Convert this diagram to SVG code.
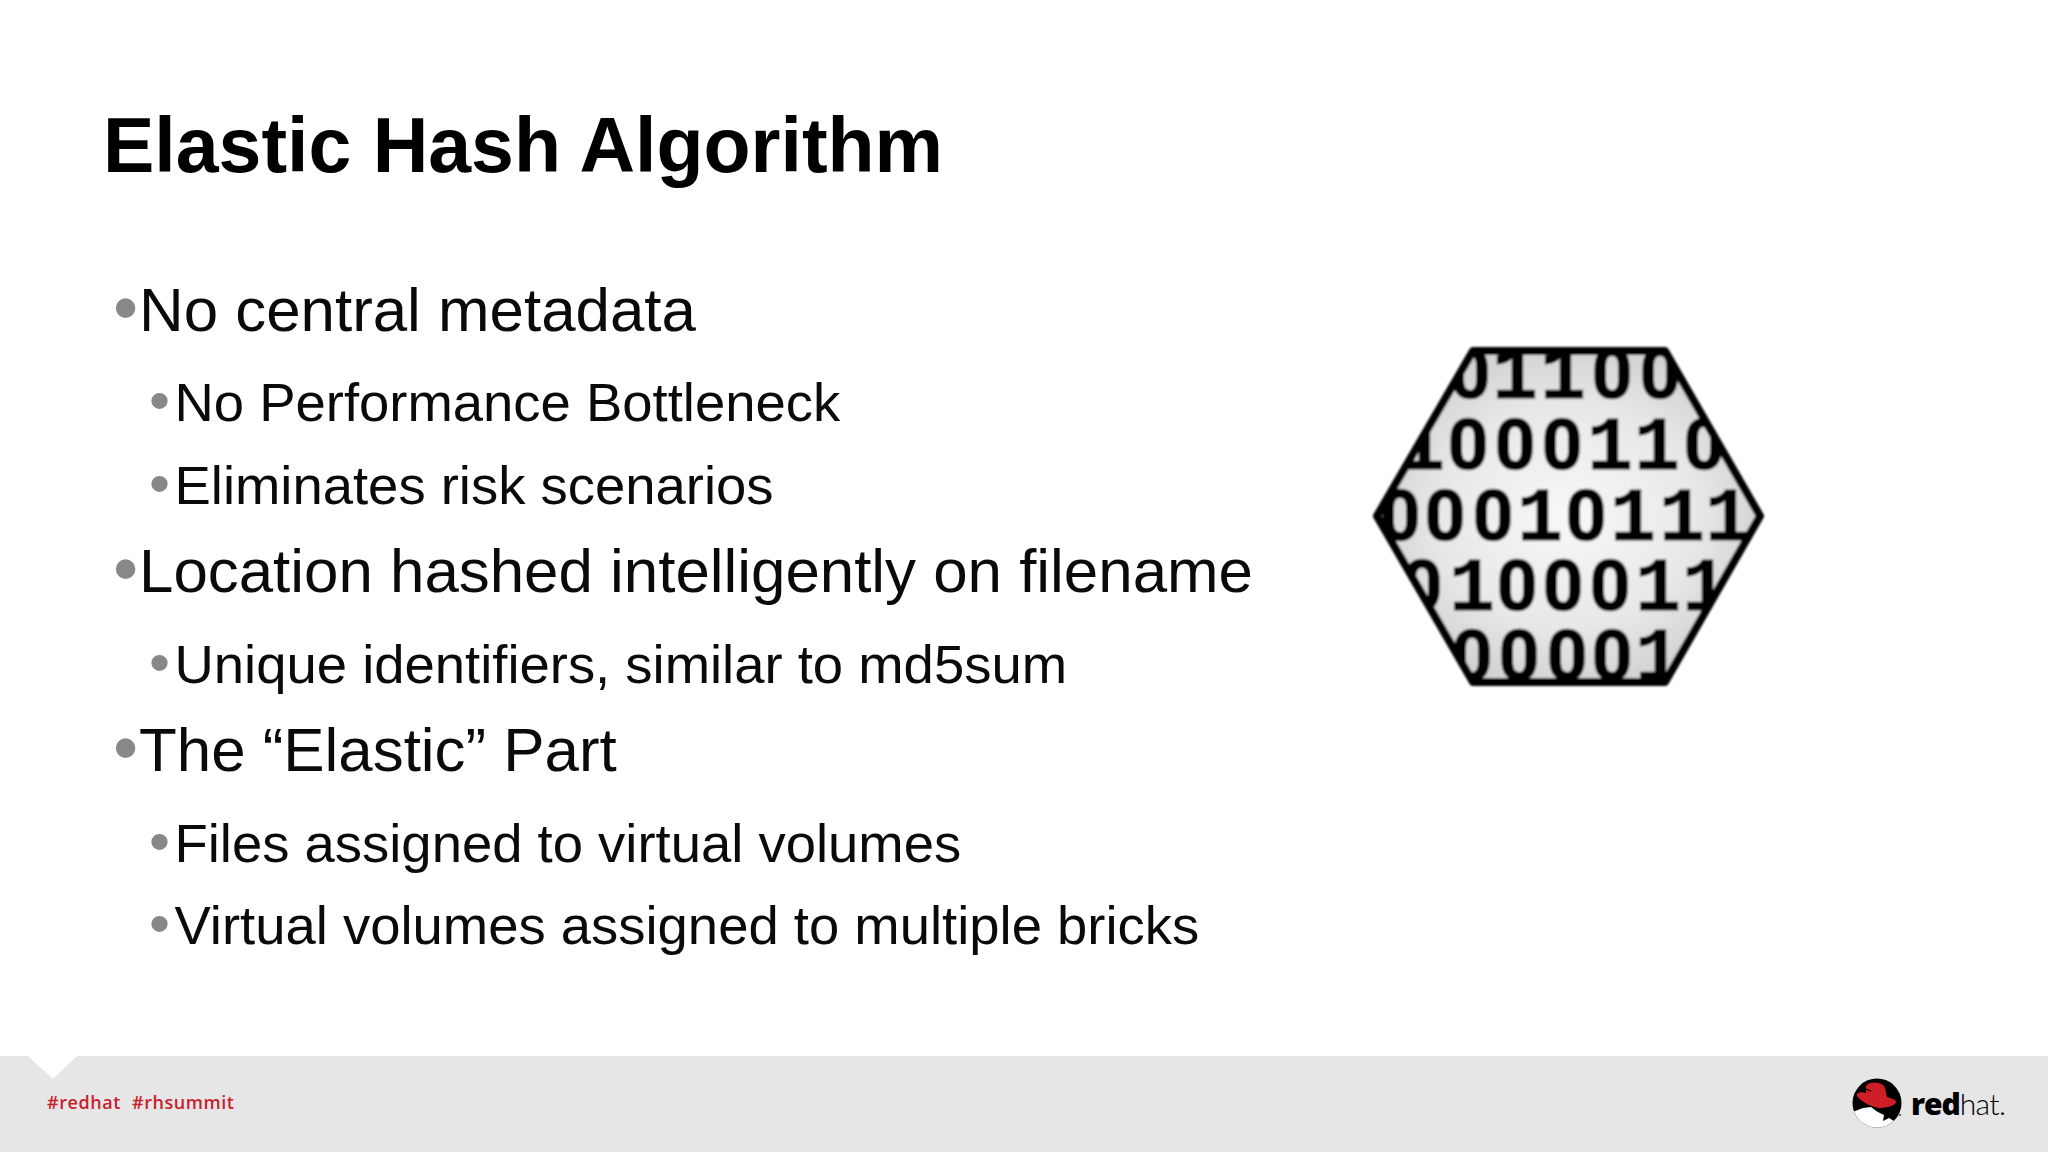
<svg xmlns="http://www.w3.org/2000/svg" width="2048" height="1152" viewBox="0 0 2048 1152">
<style>
text{font-family:"Liberation Sans",Arial,sans-serif;fill:#0a0a0a}
.t{font-size:77px;font-weight:700;fill:#000}
.a{font-size:61.85px}
.b{font-size:54.45px}
.ba{font-size:72px;fill:#888}
.bb{font-size:60px;fill:#888}
.z{font-family:Roboto,"Liberation Sans",sans-serif;font-weight:700;font-size:70px;fill:#000;stroke:#000;stroke-width:1.6px}
.o{font-family:"Liberation Mono",monospace;font-weight:700;font-size:76px;fill:#000;stroke:#000;stroke-width:1px}
.f{font-family:"Open Sans",sans-serif;font-weight:600;font-size:18px;fill:#c9202e;letter-spacing:.55px}
</style>
<defs>
<radialGradient id="g" cx="50%" cy="50%" r="55%"><stop offset="0" stop-color="#f8f8f8"/><stop offset="0.6" stop-color="#e8e8e8"/><stop offset="1" stop-color="#cfcfcf"/></radialGradient>
<clipPath id="hc"><polygon points="1473,351 1665,351 1760,516 1665,682 1473,682 1377,516"/></clipPath>
<clipPath id="lc"><circle cx="1877" cy="1103" r="24.5"/></clipPath>
<filter id="soft"><feGaussianBlur stdDeviation="0.9"/></filter>
</defs>
<rect width="2048" height="1152" fill="#fff"/>
<text class="t" x="103" y="172">Elastic Hash Algorithm</text>
<g id="text">
<text class="ba" x="113" y="332">•</text><text class="a" x="139" y="331">No central metadata</text>
<text class="bb" x="149" y="421">•</text><text class="b" x="174.5" y="420.5">No Performance Bottleneck</text>
<text class="bb" x="149" y="504">•</text><text class="b" x="174.5" y="504">Eliminates risk scenarios</text>
<text class="ba" x="113" y="593">•</text><text class="a" x="139" y="592">Location hashed intelligently on filename</text>
<text class="bb" x="149" y="683">•</text><text class="b" x="174.5" y="683">Unique identifiers, similar to md5sum</text>
<text class="ba" x="113" y="772">•</text><text class="a" x="139" y="771">The “Elastic” Part</text>
<text class="bb" x="149" y="862">•</text><text class="b" x="174.5" y="862">Files assigned to virtual volumes</text>
<text class="bb" x="149" y="944">•</text><text class="b" x="174.5" y="944">Virtual volumes assigned to multiple bricks</text>
</g>
<g id="hash-icon" filter="url(#soft)">
<polygon points="1473,351 1665,351 1760,516 1665,682 1473,682 1377,516" fill="url(#g)"/>
<g clip-path="url(#hc)" text-anchor="middle">
<text class="z" x="1470" y="398">0</text><text class="o" x="1515" y="398">1</text><text class="o" x="1563" y="398">1</text><text class="z" x="1612" y="398">0</text><text class="z" x="1660" y="398">0</text>
<text class="o" x="1422" y="469">1</text><text class="z" x="1468" y="469">0</text><text class="z" x="1515" y="469">0</text><text class="z" x="1562" y="469">0</text><text class="o" x="1610" y="469">1</text><text class="o" x="1657" y="469">1</text><text class="z" x="1704" y="469">0</text>
<text class="z" x="1400" y="540">0</text><text class="z" x="1445" y="540">0</text><text class="z" x="1493" y="540">0</text><text class="o" x="1540" y="540">1</text><text class="z" x="1586" y="540">0</text><text class="o" x="1633" y="540">1</text><text class="o" x="1682" y="540">1</text><text class="o" x="1728" y="540">1</text>
<text class="z" x="1422" y="610">0</text><text class="o" x="1472" y="610">1</text><text class="z" x="1517" y="610">0</text><text class="z" x="1563" y="610">0</text><text class="z" x="1610" y="610">0</text><text class="o" x="1658" y="610">1</text><text class="o" x="1705" y="610">1</text>
<text class="z" x="1472" y="680">0</text><text class="z" x="1519" y="680">0</text><text class="z" x="1567" y="680">0</text><text class="z" x="1612" y="680">0</text><text class="o" x="1658" y="680">1</text>
</g>
<polygon points="1473,351 1665,351 1760,516 1665,682 1473,682 1377,516" fill="none" stroke="#000" stroke-width="8" stroke-linejoin="round"/>
</g>
<g id="footer">
<rect y="1056" width="2048" height="96" fill="#e6e6e7"/>
<polygon points="28,1056 77,1056 53,1079" fill="#fff"/>
<text class="f" x="47" y="1109">#redhat</text>
<text class="f" x="132" y="1109">#rhsummit</text>
</g>
<g id="logo">
<circle cx="1877" cy="1103" r="24.5" fill="#000"/>
<g clip-path="url(#lc)">
<path d="M1850,1113 L1863,1108 L1871,1107 C1875,1110 1877,1112 1880,1113 L1884,1115 L1883,1121 L1889,1118 L1894,1121 L1905,1135 L1850,1135 Z" fill="#fff"/>
</g>
<path d="M1866,1086 C1868,1082 1878,1081 1884,1086 C1886,1090 1886,1094 1887,1097 L1893,1099 C1896,1100 1897,1102 1895,1104 C1891,1107 1884,1108 1878,1108 C1870,1106 1860,1101 1857,1096 C1856,1093 1860,1091 1866,1093 C1866,1091 1866,1088 1866,1086 Z" fill="#cf1f26"/>
<path d="M1866,1089 L1871,1091" stroke="#000" stroke-width="1.2" fill="none"/>
<circle cx="1900" cy="1115" r="1" fill="#333"/>
<text x="1911" y="1115" style="font-family:'Open Sans',sans-serif;font-weight:800;font-size:30px;fill:#000;letter-spacing:-1.1px">red<tspan style="font-family:Lato,sans-serif;font-weight:300;letter-spacing:-.6px;fill:#000">hat.</tspan></text>
</g>
</svg>
